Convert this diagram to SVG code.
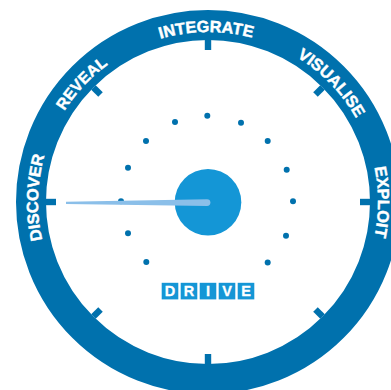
<svg xmlns="http://www.w3.org/2000/svg" width="391" height="390" viewBox="0 0 391 390">
<style>
.lbl{font:bold 16.3px "Liberation Sans",Arial,sans-serif;fill:#fff;stroke:#fff;stroke-width:.45;text-anchor:middle}
.box{fill:#1496d6}
.let{font:bold 14.5px "Liberation Sans",Arial,sans-serif;fill:#fff;stroke:#fff;stroke-width:.3;text-anchor:middle}
.tick{fill:#0071ad}
.dot{fill:#0071ad}
</style>
<defs>
<path id="arc" d="M208 372A170 170 0 1 1 208.01 372"/>
<rect id="t" class="tick" x="204.8" y="40" width="6.4" height="10"/>
</defs>
<rect width="391" height="390" fill="#fff"/>
<g id="ring">
<circle cx="208" cy="202" r="177" fill="none" stroke="#0071ad" stroke-width="30"/>
<use href="#t"/>
<use href="#t" transform="rotate(45 208 202)"/>
<use href="#t" transform="rotate(90 208 202)"/>
<use href="#t" transform="rotate(135 208 202)"/>
<use href="#t" transform="rotate(180 208 202)"/>
<use href="#t" transform="rotate(225 208 202)"/>
<use href="#t" transform="rotate(270 208 202)"/>
<use href="#t" transform="rotate(315 208 202)"/>
</g>
<g id="labels">
<text class="lbl" transform="rotate(-88.5 208 202)"><textPath href="#arc" startOffset="50%">DISCOVER</textPath></text>
<text class="lbl" style="font-size:15.8px" transform="rotate(-46.8 208 202)"><textPath href="#arc" startOffset="50%">REVEAL</textPath></text>
<text class="lbl" transform="rotate(-0.6 208 202)"><textPath href="#arc" startOffset="50%">INTEGRATE</textPath></text>
<text class="lbl" transform="rotate(46 208 202)"><textPath href="#arc" startOffset="50%">VISUALISE</textPath></text>
<text class="lbl" transform="rotate(90 208 202)"><textPath href="#arc" startOffset="50%">EXPLOIT</textPath></text>
</g>
<g id="dots">
<circle class="dot" cx="207.3" cy="115.7" r="3"/>
<circle class="dot" cx="241" cy="122.7" r="3"/>
<circle class="dot" cx="267.7" cy="141" r="3"/>
<circle class="dot" cx="286.7" cy="169.7" r="3"/>
<circle class="dot" cx="293" cy="201.3" r="3"/>
<circle class="dot" cx="286" cy="235.7" r="3"/>
<circle class="dot" cx="267.7" cy="262.5" r="3"/>
<circle class="dot" cx="146.3" cy="262" r="3"/>
<circle class="dot" cx="128" cy="233.3" r="3"/>
<circle class="dot" cx="121" cy="201.3" r="3"/>
<circle class="dot" cx="128" cy="167.7" r="3"/>
<circle class="dot" cx="146" cy="141" r="3"/>
<circle class="dot" cx="175" cy="122" r="3"/>
</g>
<g id="hub"><circle cx="208" cy="202.3" r="33.3" fill="#1496d6"/></g>
<g id="needle"><path d="M66 201.8L207 199.2A3.4 3.4 0 0 1 207 206L66 204Z" fill="#8bbfe9"/></g>
<g id="drive">
<rect class="box" x="161.7" y="282.8" width="16.6" height="16.6"/>
<rect class="box" x="180.7" y="282.8" width="16.6" height="16.6"/>
<rect class="box" x="199.7" y="282.8" width="16.6" height="16.6"/>
<rect class="box" x="218.7" y="282.8" width="16.6" height="16.6"/>
<rect class="box" x="237.7" y="282.8" width="16.6" height="16.6"/>
<text class="let" x="170" y="296.2">D</text>
<text class="let" x="189" y="296.2">R</text>
<text class="let" x="208" y="296.2">I</text>
<text class="let" x="227" y="296.2">V</text>
<text class="let" x="246" y="296.2">E</text>
</g>
</svg>
